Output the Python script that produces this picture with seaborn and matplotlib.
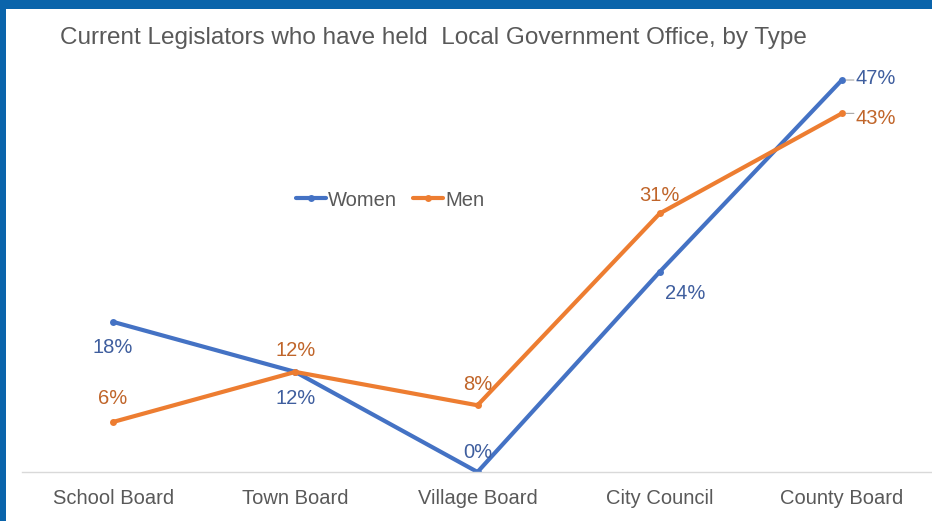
import matplotlib
matplotlib.use("Agg")
import matplotlib.pyplot as plt
import seaborn as sns
import pandas as pd
from matplotlib.patches import Rectangle

categories = ["School Board", "Town Board", "Village Board", "City Council", "County Board"]
women = [18, 12, 0, 24, 47]
men = [6, 12, 8, 31, 43]
series_names = ["Women", "Men"]
title = "Current Legislators who have held  Local Government Office, by Type"

sns.set_theme(style="white")
plt.rcParams["font.family"] = ["Liberation Sans", "DejaVu Sans"]

df = pd.DataFrame({
    "cat": list(range(len(categories))) * 2,
    "val": women + men,
    "series": [series_names[0]] * len(women) + [series_names[1]] * len(men),
})

colors = {"Women": "#4472C4", "Men": "#ED7D31"}
label_colors = {"Women": "#3F5E9E", "Men": "#C0652A"}

fig = plt.figure(figsize=(9.32, 5.21), dpi=100)
ax = fig.add_axes([22 / 932, 49 / 521, 911 / 932, 417 / 521])

sns.lineplot(data=df, x="cat", y="val", hue="series", palette=colors, ax=ax,
             linewidth=3.0, marker="o", markersize=5.0, markeredgewidth=0,
             legend=True)

ax.set_xlim(-0.5, 4.5)
ax.set_ylim(0, 50)
ax.set_xticks(range(len(categories)))
ax.set_xticklabels(categories, fontsize=14.5, color="#595959")
ax.tick_params(axis="x", length=0, pad=12)
ax.set_yticks([])
ax.set_xlabel("")
ax.set_ylabel("")
for s in ["top", "right", "left"]:
    ax.spines[s].set_visible(False)
ax.spines["bottom"].set_color("#D9D9D9")
ax.spines["bottom"].set_linewidth(1.0)

# data labels (offsets in pixels)
women_off = [(0, -26), (0, -27), (0, 20), (25, -22), (14, 2)]
men_off = [(0, 23), (0, 21), (0, 21), (0, 18), (14, -5)]
for name, vals, offs in [("Women", women, women_off), ("Men", men, men_off)]:
    for i, (v, off) in enumerate(zip(vals, offs)):
        ha = "left" if i == len(vals) - 1 else "center"
        ax.annotate(f"{v}%", (i, v), xytext=off, textcoords="offset pixels",
                    ha=ha, va="center", fontsize=14.5, color=label_colors[name],
                    annotation_clip=False)
        if i == len(vals) - 1:
            ax.annotate("", (i, v), xytext=(off[0] - 2, 0), textcoords="offset pixels",
                        arrowprops=dict(arrowstyle="-", color="#A6A6A6", lw=0.8,
                                        shrinkA=0, shrinkB=3))

handles, labels = ax.get_legend_handles_labels()
ax.legend(handles, labels, loc="center", bbox_to_anchor=(390 / 932, 1 - 200 / 521),
          bbox_transform=fig.transFigure, ncol=2, frameon=False, fontsize=14.5,
          handlelength=1.5, handletextpad=0.1, columnspacing=0.8,
          labelcolor="#595959")

fig.text(60 / 932, 1 - 38 / 521, title, ha="left", va="center",
         fontsize=17.5, color="#595959")

# blue frame (top and left bands)
fig.patches.append(Rectangle((0, 1 - 9 / 521), 1, 9 / 521, transform=fig.transFigure,
                             facecolor="#0A64AB", edgecolor="none", zorder=10))
fig.patches.append(Rectangle((0, 0), 6 / 932, 1, transform=fig.transFigure,
                             facecolor="#0A64AB", edgecolor="none", zorder=10))

fig.savefig("out.png", dpi=100, facecolor="white")
